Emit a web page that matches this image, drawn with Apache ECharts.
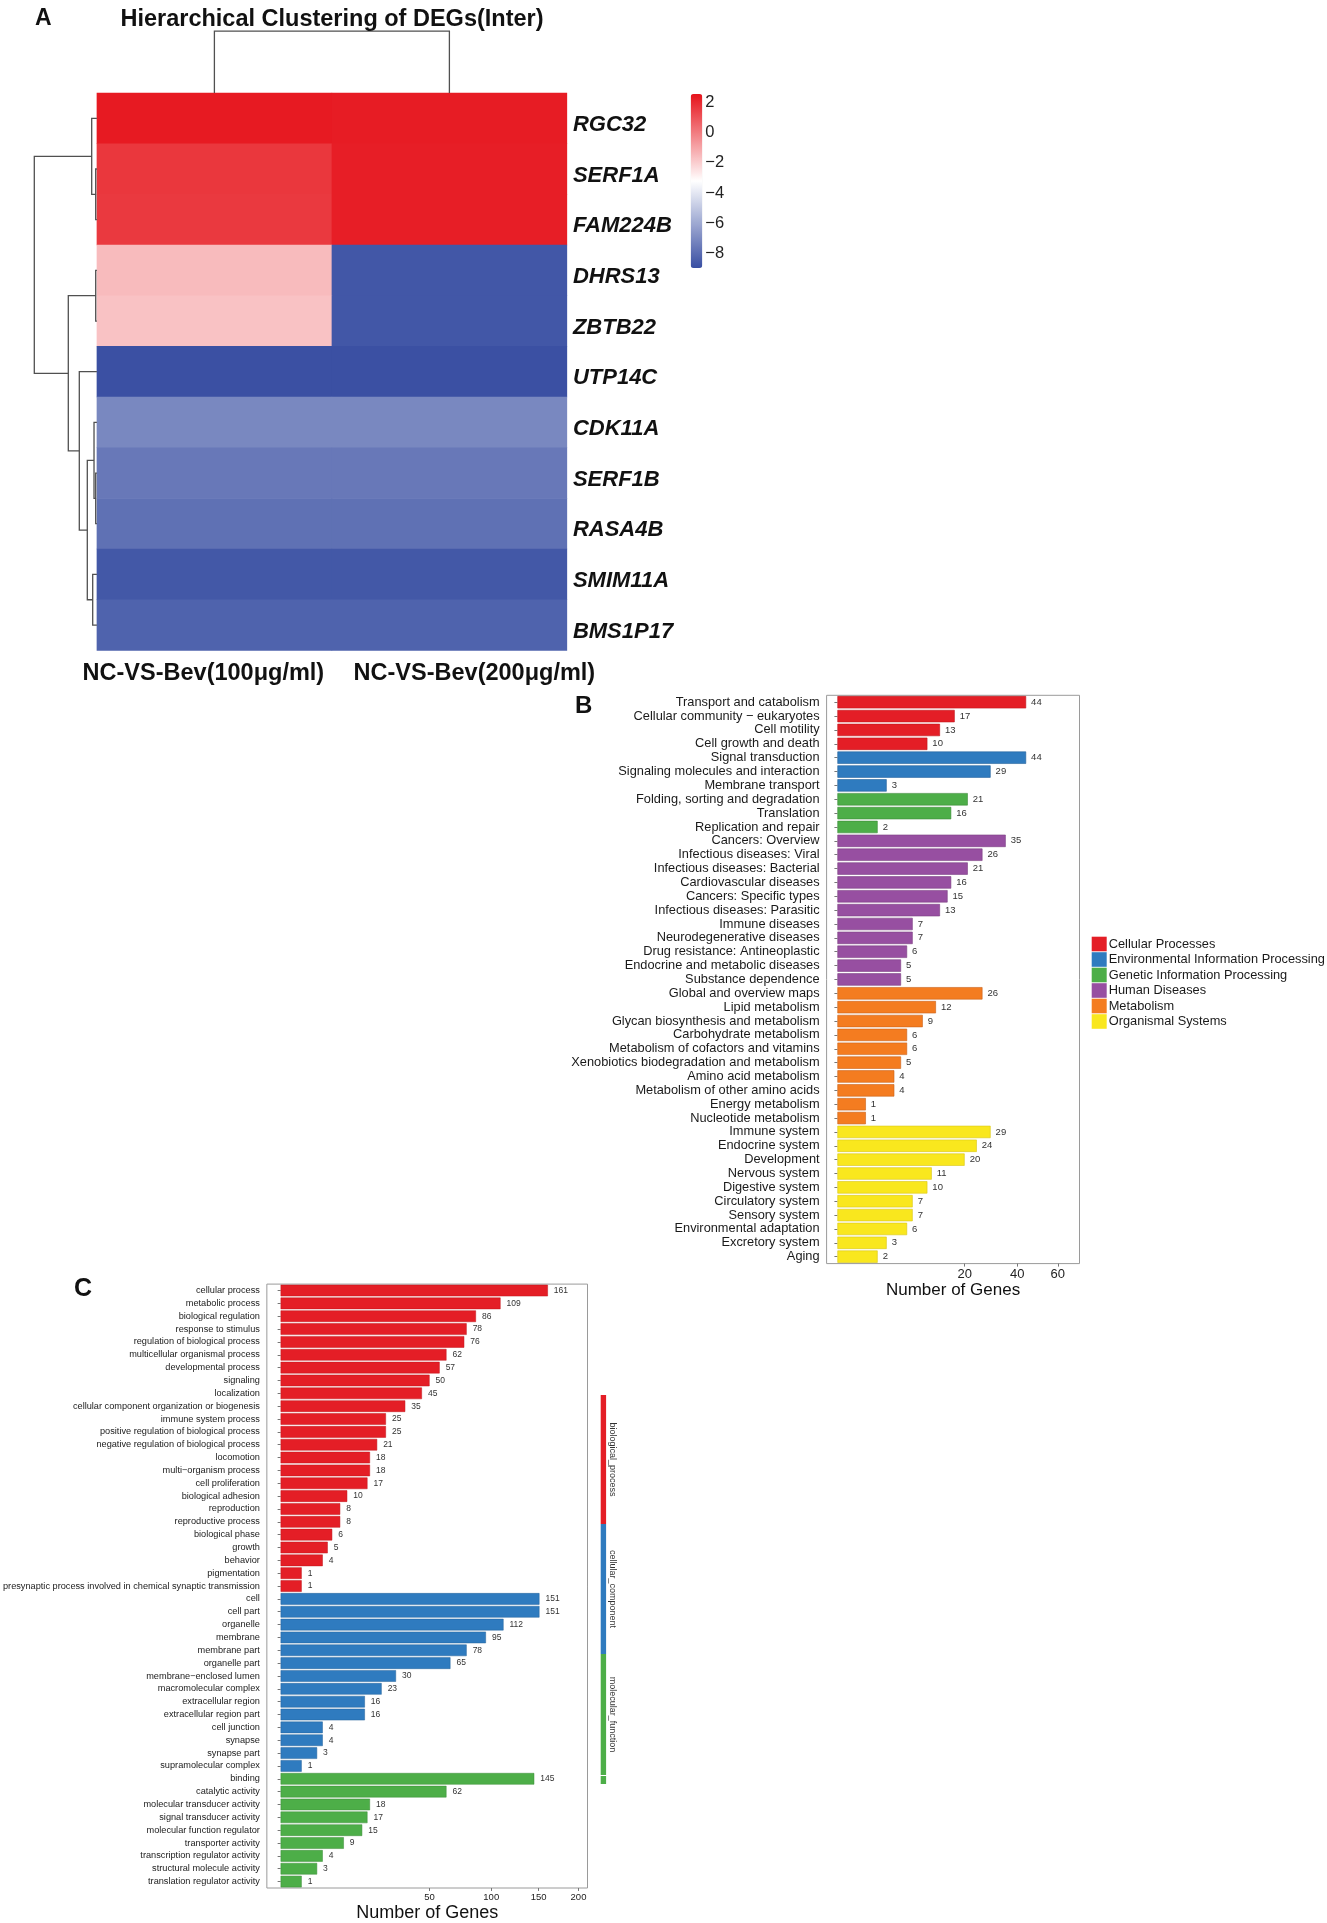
<!DOCTYPE html>
<html><head><meta charset="utf-8">
<script src="https://cdn.jsdelivr.net/npm/echarts@6/dist/echarts.min.js"></script>
<style>html,body{margin:0;padding:0;background:#fff}#c{width:1327px;height:1923px}</style>
</head><body><div id="c"></div>
<script>
const FONT = '"Liberation Sans", Arial, Helvetica, sans-serif';

// ---------- Panel A data ----------
const heatTitle = 'Hierarchical Clustering of DEGs(Inter)';
const heatGenes = ['RGC32','SERF1A','FAM224B','DHRS13','ZBTB22','UTP14C','CDK11A','SERF1B','RASA4B','SMIM11A','BMS1P17'];
const heatSamples = ['NC-VS-Bev(100μg/ml)','NC-VS-Bev(200μg/ml)'];
const heat100 = [2.40, 1.71, 1.66, -1.53, -1.70, -8.90, -7.10, -7.60, -7.85, -8.65, -8.30];
const heat200 = [2.35, 2.31, 2.31, -8.70, -8.70, -8.90, -7.10, -7.60, -7.85, -8.65, -8.30];
const colorbarTicks = [2, 0, -2, -4, -6, -8];
const colorMin = -8.98, colorMax = 2.58;
// hierarchical merges: [childA, childB, height]; L = leaf (row/column index), M = earlier merge
const rowMerges = [
  ['L1','L2',0.30], ['L0','M0',1.30], ['L3','L4',0.30], ['L7','L8',0.30], ['L6','M3',0.72],
  ['L9','L10',1.05], ['M4','M5',2.40], ['L5','M6',4.40], ['M2','M7',7.15], ['M1','M8',15.65]
];
const colMerges = [['L0','L1',1.0]];

// ---------- Panel B data ----------
const keggGroups = ['Cellular Processes','Environmental Information Processing','Genetic Information Processing','Human Diseases','Metabolism','Organismal Systems'];
const keggTerms = ['Transport and catabolism','Cellular community − eukaryotes','Cell motility','Cell growth and death',
  'Signal transduction','Signaling molecules and interaction','Membrane transport',
  'Folding, sorting and degradation','Translation','Replication and repair',
  'Cancers: Overview','Infectious diseases: Viral','Infectious diseases: Bacterial','Cardiovascular diseases','Cancers: Specific types','Infectious diseases: Parasitic','Immune diseases','Neurodegenerative diseases','Drug resistance: Antineoplastic','Endocrine and metabolic diseases','Substance dependence',
  'Global and overview maps','Lipid metabolism','Glycan biosynthesis and metabolism','Carbohydrate metabolism','Metabolism of cofactors and vitamins','Xenobiotics biodegradation and metabolism','Amino acid metabolism','Metabolism of other amino acids','Energy metabolism','Nucleotide metabolism',
  'Immune system','Endocrine system','Development','Nervous system','Digestive system','Circulatory system','Sensory system','Environmental adaptation','Excretory system','Aging'];
const keggCounts = [44,17,13,10, 44,29,3, 21,16,2, 35,26,21,16,15,13,7,7,6,5,5, 26,12,9,6,6,5,4,4,1,1, 29,24,20,11,10,7,7,6,3,2];
const keggGroupOf = [0,0,0,0, 1,1,1, 2,2,2, 3,3,3,3,3,3,3,3,3,3,3, 4,4,4,4,4,4,4,4,4,4, 5,5,5,5,5,5,5,5,5,5];
const keggTicks = [20, 40, 60];

// ---------- Panel C data ----------
const goGroups = ['biological_process','cellular_component','molecular_function'];
const goTerms = ['cellular process','metabolic process','biological regulation','response to stimulus','regulation of biological process','multicellular organismal process','developmental process','signaling','localization','cellular component organization or biogenesis','immune system process','positive regulation of biological process','negative regulation of biological process','locomotion','multi−organism process','cell proliferation','biological adhesion','reproduction','reproductive process','biological phase','growth','behavior','pigmentation','presynaptic process involved in chemical synaptic transmission',
  'cell','cell part','organelle','membrane','membrane part','organelle part','membrane−enclosed lumen','macromolecular complex','extracellular region','extracellular region part','cell junction','synapse','synapse part','supramolecular complex',
  'binding','catalytic activity','molecular transducer activity','signal transducer activity','molecular function regulator','transporter activity','transcription regulator activity','structural molecule activity','translation regulator activity'];
const goCounts = [161,109,86,78,76,62,57,50,45,35,25,25,21,18,18,17,10,8,8,6,5,4,1,1,
  151,151,112,95,78,65,30,23,16,16,4,4,3,1,
  145,62,18,17,15,9,4,3,1];
const goGroupOf = [0,0,0,0,0,0,0,0,0,0,0,0,0,0,0,0,0,0,0,0,0,0,0,0, 1,1,1,1,1,1,1,1,1,1,1,1,1,1, 2,2,2,2,2,2,2,2,2];
const goTicks = [50, 100, 150, 200];
const goStripSpans = [129, 130, 121, 1, 8];   // strip segments: BP, CC, MF, break, MF tail
const goStripGroup = [0, 1, 2, -1, 2];

// ---------- styles ----------
const groupColors = ['#E41E26','#2F7BBF','#4DAE48','#974FA1','#F47C20','#F9E71E'];
const groupBorders = ['#C0161C','#25629A','#3C8C39','#7A3E82','#C9621A','#D8C615'];
const heatColors = ['#384EA2','#FFFFFF','#E6131B'];

// ---------- dendrogram helpers ----------
function dendroSegments(merges) {
  const pos = {}, hgt = {};
  const get = k => k[0] === 'L' ? [Number(k.slice(1)), 0] : [pos[k], hgt[k]];
  return merges.map((m, i) => {
    const a = get(m[0]), b = get(m[1]);
    pos['M' + i] = (a[0] + b[0]) / 2; hgt['M' + i] = m[2];
    return [a[0], a[1], b[0], b[1], m[2]];
  });
}
const rowSeg = dendroSegments(rowMerges);
const colSeg = dendroSegments(colMerges);
const rowRoot = rowMerges[rowMerges.length - 1][2];
const colRoot = colMerges[colMerges.length - 1][2];
const dendroStyle = { stroke: '#505050', lineWidth: 1.3, fill: 'none' };

const heatData = [];
heatGenes.forEach((g, i) => { heatData.push([0, i, heat100[i]]); heatData.push([1, i, heat200[i]]); });

const sq = v => Math.sqrt(v);
const hidden = { show: false };
const geneRich = { fontSize: 22, fontWeight: 'bold', fontStyle: 'italic', fontFamily: FONT, color: '#111', padding: [13, 0, 0, 0] };

const option = {
  backgroundColor: '#fff',
  animation: false,
  textStyle: { fontFamily: FONT },
  title: [
    { text: heatTitle, left: 332, top: 7.5, textAlign: 'center', padding: 0, textStyle: { fontFamily: FONT, fontSize: 23.5, fontWeight: 'bold', color: '#111' } },
    { text: 'A', left: 35, top: 7.5, padding: 0, textStyle: { fontFamily: FONT, fontSize: 23, fontWeight: 'bold', color: '#111' } },
    { text: 'B', left: 575, top: 694, padding: 0, textStyle: { fontFamily: FONT, fontSize: 24, fontWeight: 'bold', color: '#111' } },
    { text: 'C', left: 74, top: 1277, padding: 0, textStyle: { fontFamily: FONT, fontSize: 25, fontWeight: 'bold', color: '#111' } }
  ],
  grid: [
    { left: 96.9, top: 93, width: 470, height: 557.4 },          // 0 heatmap
    { left: 34.3, top: 93, width: 62.6, height: 557.4 },         // 1 row dendrogram
    { left: 96.9, top: 31.2, width: 470, height: 61.8 },         // 2 column dendrogram
    { left: 690.7, top: 94, width: 11.6, height: 174 },          // 3 colorbar axis
    { left: 826.6, top: 695.3, width: 252.9, height: 568.3, show: true, borderColor: '#9a9a9a', borderWidth: 1 }, // 4 KEGG
    { left: 266.5, top: 1284.1, width: 321, height: 607.1, show: true, borderColor: '#9a9a9a', borderWidth: 1 },  // 5 GO
    { left: 600.7, top: 1395, width: 5.4, height: 389 }          // 6 GO strip
  ],
  xAxis: [
    { gridIndex: 0, type: 'category', data: heatSamples, position: 'bottom', axisLine: hidden, axisTick: hidden, splitLine: hidden,
      axisLabel: { margin: 11, interval: 0, color: '#111', fontSize: 23.5, fontWeight: 'bold', fontFamily: FONT,
        formatter: (v, i) => i === 0 ? '{a|' + v + '}' : '{b|' + v + '}',
        rich: { a: { fontSize: 23.5, fontWeight: 'bold', fontFamily: FONT, color: '#111', padding: [0, 22, 0, 0] },
                b: { fontSize: 23.5, fontWeight: 'bold', fontFamily: FONT, color: '#111', padding: [0, 0, 0, 50] } } } },
    { gridIndex: 1, type: 'value', min: 0, max: rowRoot, inverse: true, show: false },
    { gridIndex: 2, type: 'value', min: -0.5, max: 1.5, show: false },
    { gridIndex: 3, type: 'value', show: false },
    { gridIndex: 4, type: 'value', min: -0.38, max: 8.51, splitLine: hidden, axisLine: hidden,
      axisTick: { show: true, length: 3, lineStyle: { color: '#777' }, customValues: keggTicks.map(sq) },
      axisLabel: { customValues: keggTicks.map(sq), formatter: v => Math.round(v * v), fontSize: 13, color: '#222', margin: 4 },
      name: 'Number of Genes', nameLocation: 'middle', nameGap: 16, nameTextStyle: { fontSize: 17, color: '#111' } },
    { gridIndex: 5, type: 'value', min: -0.654, max: 14.57, splitLine: hidden, axisLine: hidden,
      axisTick: { show: true, length: 3, lineStyle: { color: '#777' }, customValues: goTicks.map(sq) },
      axisLabel: { customValues: goTicks.map(sq), formatter: v => Math.round(v * v), fontSize: 9.5, color: '#222', margin: 4 },
      name: 'Number of Genes', nameLocation: 'middle', nameGap: 16, nameTextStyle: { fontSize: 18, color: '#111' } },
    { gridIndex: 6, type: 'category', data: ['strip'], show: false }
  ],
  yAxis: [
    { gridIndex: 0, type: 'category', data: heatGenes, inverse: true, position: 'right', axisLine: hidden, axisTick: hidden, splitLine: hidden,
      axisLabel: { margin: 6, interval: 0, formatter: v => '{g|' + v + '}', rich: { g: geneRich } } },
    { gridIndex: 1, type: 'value', min: -0.5, max: heatGenes.length - 0.5, inverse: true, show: false },
    { gridIndex: 2, type: 'value', min: 0, max: colRoot, show: false },
    { gridIndex: 3, type: 'value', min: colorMin, max: colorMax, position: 'right', axisLine: hidden, axisTick: hidden, splitLine: hidden,
      axisLabel: { customValues: colorbarTicks, formatter: v => v < 0 ? '−' + Math.abs(v) : String(v), fontSize: 16.5, color: '#222', margin: 3 } },
    { gridIndex: 4, type: 'category', data: keggTerms, inverse: true, axisLine: hidden,
      axisTick: { show: true, length: 3, alignWithLabel: true, lineStyle: { color: '#777' } },
      axisLabel: { interval: 0, fontSize: 12.8, color: '#1a1a1a', margin: 7 } },
    { gridIndex: 5, type: 'category', data: goTerms, inverse: true, axisLine: hidden,
      axisTick: { show: true, length: 3, alignWithLabel: true, lineStyle: { color: '#777' } },
      axisLabel: { interval: 0, fontSize: 9.2, color: '#1a1a1a', margin: 7 } },
    { gridIndex: 6, type: 'value', min: 0, max: goStripSpans.reduce((a, b) => a + b, 0), inverse: true, show: false }
  ],
  visualMap: [{
    type: 'continuous', seriesIndex: 0, dimension: 2, min: colorMin, max: colorMax,
    inRange: { color: heatColors }, calculable: false, hoverLink: false, orient: 'vertical',
    left: 690.7, top: 94, itemWidth: 11.6, itemHeight: 174, padding: 0, text: null, showLabel: false
  }],
  legend: [{
    data: keggGroups, orient: 'vertical', left: 1091.7, top: 936.7, padding: 0, itemWidth: 15, itemHeight: 14.6, itemGap: 0.9,
    icon: 'rect', selectedMode: false, itemStyle: { borderWidth: 0 },
    textStyle: { fontSize: 12.8, lineHeight: 14.6, color: '#1a1a1a', fontFamily: FONT, padding: [0, 0, 0, -3] }
  }],
  series: [
    { type: 'heatmap', xAxisIndex: 0, yAxisIndex: 0, data: heatData, itemStyle: { borderWidth: 0 }, emphasis: { disabled: true } },
    { type: 'custom', xAxisIndex: 1, yAxisIndex: 1, data: rowSeg, silent: true,
      renderItem: (p, api) => {
        const pA = api.value(0), hA = api.value(1), pB = api.value(2), hB = api.value(3), h = api.value(4);
        return { type: 'polyline', shape: { points: [api.coord([hA, pA]), api.coord([h, pA]), api.coord([h, pB]), api.coord([hB, pB])] }, style: dendroStyle };
      } },
    { type: 'custom', xAxisIndex: 2, yAxisIndex: 2, data: colSeg, silent: true,
      renderItem: (p, api) => {
        const pA = api.value(0), hA = api.value(1), pB = api.value(2), hB = api.value(3), h = api.value(4);
        return { type: 'polyline', shape: { points: [api.coord([pA, hA]), api.coord([pA, h]), api.coord([pB, h]), api.coord([pB, hB])] }, style: dendroStyle };
      } }
  ]
};

keggGroups.forEach((g, gi) => {
  option.series.push({
    type: 'bar', name: g, xAxisIndex: 4, yAxisIndex: 4, barGap: '-100%', barCategoryGap: '11%',
    data: keggCounts.map((v, i) => keggGroupOf[i] === gi ? sq(v) : null),
    itemStyle: { color: groupColors[gi], borderColor: groupBorders[gi], borderWidth: 0.6 },
    label: { show: true, position: 'right', distance: 5, fontSize: 9.5, color: '#333', formatter: p => String(keggCounts[p.dataIndex]) }
  });
});
goGroups.forEach((g, gi) => {
  option.series.push({
    type: 'bar', name: g, xAxisIndex: 5, yAxisIndex: 5, barGap: '-100%', barCategoryGap: '10%',
    data: goCounts.map((v, i) => goGroupOf[i] === gi ? sq(v) : null),
    itemStyle: { color: groupColors[gi], borderColor: groupBorders[gi], borderWidth: 0.5 },
    label: { show: true, position: 'right', distance: 6, fontSize: 8.5, color: '#333', formatter: p => String(goCounts[p.dataIndex]) }
  });
});
goStripSpans.forEach((s, k) => {
  const gi = goStripGroup[k];
  option.series.push({
    type: 'bar', xAxisIndex: 6, yAxisIndex: 6, stack: 'strip', barWidth: '100%', silent: true,
    data: [s],
    itemStyle: { color: gi < 0 ? 'rgba(0,0,0,0)' : groupColors[gi] },
    label: { show: gi >= 0 && k < 3, position: 'right', distance: 2, rotate: -90, align: 'center', verticalAlign: 'bottom',
      fontSize: 9, color: '#333', formatter: () => gi >= 0 ? goGroups[gi] : '' }
  });
});

const chart = echarts.init(document.getElementById('c'), null, { renderer: 'canvas' });
chart.setOption(option);
</script></body></html>
